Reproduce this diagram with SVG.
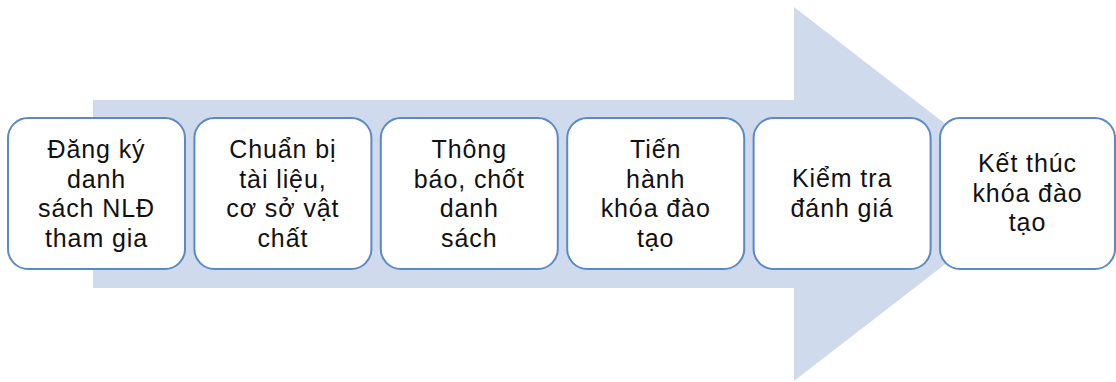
<svg xmlns="http://www.w3.org/2000/svg" width="1116" height="382" viewBox="0 0 1116 382">
  <style>
    .step rect { fill: #ffffff; stroke: #5a8ac6; stroke-width: 2; }
    .step text { font-family: "Liberation Sans", Arial, sans-serif; font-size: 25px; letter-spacing: 0.9px; fill: #111111; text-anchor: middle; }
  </style>
  <rect width="1116" height="382" fill="#ffffff"/>
  <!-- background process arrow -->
  <g id="connectors">
    <path d="M93,100 H794 V7 L1036,194 L794,381 V288 H93 Z" fill="#cfdaed"/>
  </g>
  <g id="step1" class="step">
    <rect x="8" y="118" width="177" height="151" rx="20"/>
    <text y="158"><tspan x="96.5">Đăng ký</tspan><tspan x="96.5" dy="29.5">danh</tspan><tspan x="96.5" dy="29.5">sách NLĐ</tspan><tspan x="96.5" dy="29.5">tham gia</tspan></text>
  </g>
  <g id="step2" class="step">
    <rect x="194.4" y="118" width="177" height="151" rx="20"/>
    <text y="158"><tspan x="282.9">Chuẩn bị</tspan><tspan x="282.9" dy="29.5">tài liệu,</tspan><tspan x="282.9" dy="29.5">cơ sở vật</tspan><tspan x="282.9" dy="29.5">chất</tspan></text>
  </g>
  <g id="step3" class="step">
    <rect x="380.8" y="118" width="177" height="151" rx="20"/>
    <text y="158"><tspan x="469.3">Thông</tspan><tspan x="469.3" dy="29.5">báo, chốt</tspan><tspan x="469.3" dy="29.5">danh</tspan><tspan x="469.3" dy="29.5">sách</tspan></text>
  </g>
  <g id="step4" class="step">
    <rect x="567.2" y="118" width="177" height="151" rx="20"/>
    <text y="158"><tspan x="655.7">Tiến</tspan><tspan x="655.7" dy="29.5">hành</tspan><tspan x="655.7" dy="29.5">khóa đào</tspan><tspan x="655.7" dy="29.5">tạo</tspan></text>
  </g>
  <g id="step5" class="step">
    <rect x="753.6" y="118" width="177" height="151" rx="20"/>
    <text y="187"><tspan x="842.1">Kiểm tra</tspan><tspan x="842.1" dy="29.5">đánh giá</tspan></text>
  </g>
  <g id="step6" class="step">
    <rect x="940" y="118" width="175" height="151" rx="20"/>
    <text y="172"><tspan x="1027.5">Kết thúc</tspan><tspan x="1027.5" dy="29.5">khóa đào</tspan><tspan x="1027.5" dy="29.5">tạo</tspan></text>
  </g>
</svg>
